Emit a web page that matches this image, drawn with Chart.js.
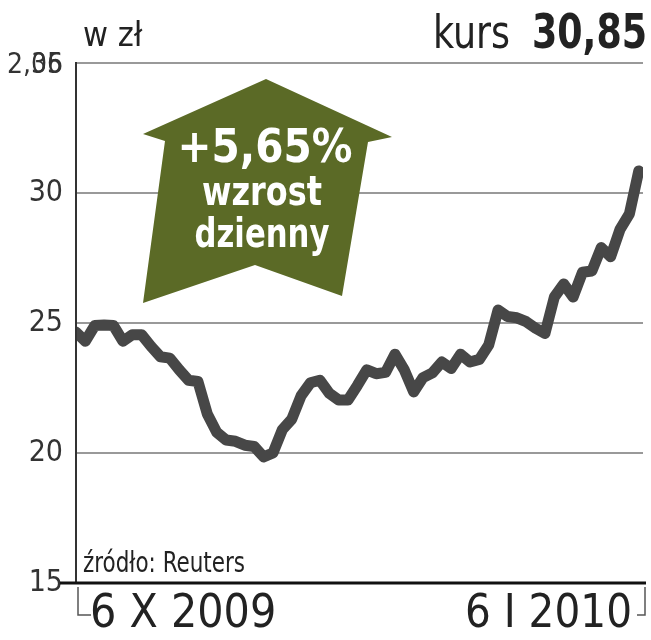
<!DOCTYPE html>
<html>
<head>
<meta charset="utf-8">
<script src="https://cdn.jsdelivr.net/npm/chart.js@4.4.1/dist/chart.umd.min.js"></script>
<style>
  html, body { margin: 0; padding: 0; background: #fff; }
</style>
</head>
<body>
<canvas id="kurs" width="651" height="640"></canvas>
<script>
// notowania dzienne 6 X 2009 - 6 I 2010
const prices = [
  24.65, 24.3, 24.9, 24.92, 24.9, 24.3, 24.55, 24.55, 24.1, 23.7,
  23.65, 23.2, 22.8, 22.75, 21.5, 20.8, 20.5, 20.45, 20.3, 20.25,
  19.85, 20.0, 20.9, 21.3, 22.2, 22.7, 22.8, 22.3, 22.04, 22.04,
  22.6, 23.2, 23.05, 23.1, 23.8, 23.2, 22.35, 22.9, 23.08, 23.5,
  23.25, 23.8, 23.5, 23.6, 24.15, 25.5, 25.25, 25.2, 25.05, 24.8,
  24.6, 26.0, 26.5, 26.0, 26.95, 27.0, 27.9, 27.55, 28.6, 29.2,
  30.85
];
const dateLabels = ["6 X 2009", "6 I 2010"];
const yTicks = [15, 20, 25, 30, 35];

const NARROW = "'Liberation Sans Narrow', 'DejaVu Sans Condensed', 'Roboto', sans-serif";

const extras = {
  id: "extras",
  afterDraw(chart) {
    const ctx = chart.ctx;
    const a = chart.chartArea;
    ctx.save();

    // left axis + bottom axis
    ctx.strokeStyle = "#333";
    ctx.lineWidth = 2;
    ctx.beginPath();
    ctx.moveTo(a.left, a.top - 1);
    ctx.lineTo(a.left, a.bottom);
    ctx.stroke();
    ctx.strokeStyle = "#111";
    ctx.lineWidth = 3;
    ctx.beginPath();
    ctx.moveTo(60, a.bottom);
    ctx.lineTo(646, a.bottom);
    ctx.stroke();

    // bracket under dates
    ctx.strokeStyle = "#555";
    ctx.lineWidth = 1.5;
    ctx.beginPath();
    ctx.moveTo(78, a.bottom + 4);
    ctx.lineTo(78, 615);
    ctx.lineTo(91, 615);
    ctx.moveTo(645, a.bottom + 4);
    ctx.lineTo(645, 615);
    ctx.lineTo(637, 615);
    ctx.stroke();

    // strzalka
    ctx.fillStyle = "#5b6a26";
    ctx.beginPath();
    ctx.moveTo(266, 79);
    ctx.lineTo(392, 137);
    ctx.lineTo(368, 142);
    ctx.lineTo(342, 296);
    ctx.lineTo(255, 265);
    ctx.lineTo(143, 303);
    ctx.lineTo(165, 141);
    ctx.lineTo(143, 134);
    ctx.closePath();
    ctx.fill();

    ctx.fillStyle = "#fff";
    ctx.textAlign = "center";
    ctx.textBaseline = "alphabetic";
    ctx.font = "bold 46px " + NARROW;
    ctx.fillText("+5,65%", 265, 162, 175);
    ctx.font = "bold 40px " + NARROW;
    ctx.fillText("wzrost", 262, 205, 120);
    ctx.fillText("dzienny", 262, 247, 135);

    // naglowek
    ctx.textAlign = "left";
    ctx.fillStyle = "#222";
    ctx.font = "34px " + NARROW;
    ctx.fillText("w zł", 83, 46, 67);
    ctx.font = "bold 48px " + NARROW;
    ctx.fillText("30,85", 532, 48, 115);
    ctx.font = "46px " + NARROW;
    ctx.fillText("kurs", 433, 48, 77);

    // zaklocona etykieta u gory osi
    ctx.textAlign = "right";
    ctx.fillStyle = "#333";
    ctx.font = "28px " + NARROW;
    ctx.fillText("2,06", 63, a.top + 10);
    ctx.fillText("35", 63, a.top + 10);

    // zrodlo i daty
    ctx.textAlign = "left";
    ctx.fillStyle = "#222";
    ctx.font = "28px " + NARROW;
    ctx.fillText("źródło: Reuters", 83, 572, 162);
    ctx.font = "46px " + NARROW;
    ctx.fillText(dateLabels[0], 90, 627, 190);
    ctx.textAlign = "right";
    ctx.fillText(dateLabels[1], 632, 627, 167);

    ctx.restore();
  }
};

new Chart(document.getElementById("kurs"), {
  type: "line",
  data: {
    datasets: [{
      data: prices.map((v, i) => ({ x: i, y: v })),
      borderColor: "#474747",
      borderWidth: 11,
      borderJoinStyle: "round",
      borderCapStyle: "round",
      pointRadius: 0,
      tension: 0
    }]
  },
  options: {
    responsive: false,
    animation: false,
    layout: { padding: { top: 63, right: 8, bottom: 57, left: 0 } },
    plugins: { legend: { display: false }, tooltip: { enabled: false } },
    scales: {
      x: {
        type: "linear",
        display: false,
        min: 0,
        max: prices.length - 1 + 0.45
      },
      y: {
        min: 15,
        max: 35,
        afterFit(s) { s.width = 76; },
        afterBuildTicks(s) { s.ticks = yTicks.map(v => ({ value: v })); },
        border: { display: false },
        grid: { color: "#999", lineWidth: 2, drawTicks: false },
        ticks: {
          padding: 13,
          color: "#333",
          font: { family: NARROW, size: 30 },
          callback: v => v === 35 ? "" : String(v)
        }
      }
    }
  },
  plugins: [extras]
});
</script>
</body>
</html>
